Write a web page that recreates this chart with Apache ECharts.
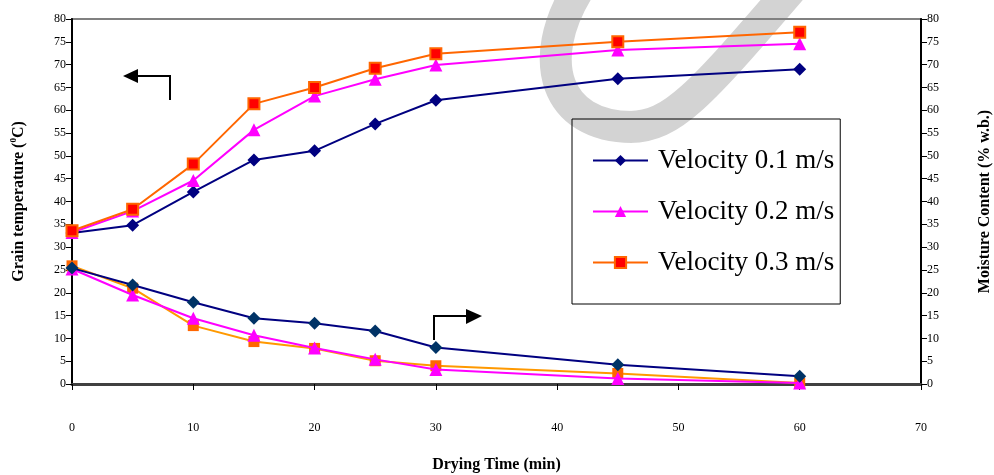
<!DOCTYPE html>
<html>
<head>
<meta charset="utf-8">
<script src="https://cdn.jsdelivr.net/npm/echarts@6/dist/echarts.min.js"></script>
<style>html,body{margin:0;padding:0;background:#fff}#c{width:994px;height:475px}</style>
</head>
<body>
<div id="c"></div>
<script>
// ---- data ----
const dryingTime = [0, 5, 10, 15, 20, 25, 30, 45, 60];
const seriesNames = ['Velocity 0.1 m/s', 'Velocity 0.2 m/s', 'Velocity 0.3 m/s'];
const tempV1 = [33.1, 34.8, 42.1, 49.1, 51.1, 57.0, 62.2, 66.9, 69.0];
const tempV2 = [33.2, 37.9, 44.6, 55.7, 63.1, 66.8, 69.9, 73.2, 74.6];
const tempV3 = [33.6, 38.3, 48.2, 61.4, 65.0, 69.2, 72.4, 75.0, 77.1];
const moistV1 = [25.4, 21.7, 17.9, 14.4, 13.3, 11.6, 8.0, 4.2, 1.7];
const moistV2 = [25.2, 19.5, 14.4, 10.7, 7.9, 5.4, 3.2, 1.2, 0.2];
const moistV3 = [25.9, 21.0, 12.8, 9.3, 7.8, 5.1, 4.0, 2.3, 0.2];
const xTicks = {min: 0, max: 70, interval: 10};
const yTicks = {min: 0, max: 80, interval: 5};

const FONT = 'Liberation Serif';
const pairs = arr => dryingTime.map((t, i) => [t, arr[i]]);

const chart = echarts.init(document.getElementById('c'), null, {renderer: 'canvas'});

function mk(name, data, yIdx, lineColor, symbol, size, fill, border, z) {
  return {
    name: name, type: 'line', yAxisIndex: yIdx, data: pairs(data),
    symbol: symbol, symbolSize: size, showSymbol: true, z: z,
    lineStyle: {color: lineColor, width: 2},
    itemStyle: {color: fill, borderColor: border || fill, borderWidth: border ? 2 : 0},
    emphasis: {disabled: true}, animation: false
  };
}

const yAxisBase = {
  type: 'value', min: yTicks.min, max: yTicks.max, interval: yTicks.interval,
  axisLine: {show: true, onZero: false, lineStyle: {color: '#000', width: 2}},
  axisTick: {show: true, length: 6, lineStyle: {color: '#000', width: 1}},
  axisLabel: {fontFamily: FONT, fontSize: 12, color: '#000', margin: 6},
  splitLine: {show: false},
  nameLocation: 'middle', nameRotate: 90
};

chart.setOption({
  animation: false,
  backgroundColor: '#fff',
  grid: {left: 72, right: 73, top: 19, bottom: 91, outerBoundsMode: 'none', containLabel: false,
         show: true, borderColor: '#808080', borderWidth: 2, backgroundColor: 'transparent'},
  legend: {
    data: seriesNames, orient: 'vertical', left: 572, top: 119,
    borderColor: '#000', borderWidth: 1, backgroundColor: 'transparent',
    padding: [28, 6, 28, 20], itemGap: 24, itemWidth: 55, itemHeight: 14,
    textStyle: {fontFamily: FONT, fontSize: 27, color: '#000', padding: [0, 0, 0, 5]},
    selectedMode: false
  },
  xAxis: {
    type: 'value', min: xTicks.min, max: xTicks.max, interval: xTicks.interval,
    axisLine: {show: true, onZero: false, lineStyle: {color: '#404040', width: 3}},
    axisTick: {show: true, length: 6, lineStyle: {color: '#000', width: 1}},
    axisLabel: {fontFamily: FONT, fontSize: 12, color: '#000', margin: 38},
    splitLine: {show: false},
    name: 'Drying Time (min)', nameLocation: 'middle', nameGap: 73,
    nameTextStyle: {fontFamily: FONT, fontSize: 16, fontWeight: 'bold', color: '#000'}
  },
  yAxis: [
    Object.assign({}, yAxisBase, {
      position: 'left', nameGap: 44,
      name: 'Grain temperature ({sup|0}C)',
      nameTextStyle: {fontFamily: FONT, fontSize: 16, fontWeight: 'bold', color: '#000',
        rich: {sup: {fontFamily: FONT, fontSize: 9, fontWeight: 'bold', color: '#000', padding: [0, 0, 10, 0]}}}
    }),
    Object.assign({}, yAxisBase, {
      position: 'right', nameGap: 56,
      name: 'Moisture Content (% w.b.)',
      nameTextStyle: {fontFamily: FONT, fontSize: 16, fontWeight: 'bold', color: '#000'}
    })
  ],
  graphic: [
    {type: 'bezierCurve', z: -10, silent: true,
     shape: {x1: 578, y1: -10, cpx1: 535, cpy1: 60, cpx2: 555, cpy2: 127, x2: 632, y2: 127},
     style: {fill: null, stroke: '#d3d3d3', lineWidth: 32}},
    {type: 'bezierCurve', z: -10, silent: true,
     shape: {x1: 630, y1: 127, cpx1: 672, cpy1: 127, cpx2: 700, cpy2: 95, x2: 792, y2: -12},
     style: {fill: null, stroke: '#d3d3d3', lineWidth: 32}},
    {type: 'polyline', z: 100, shape: {points: [[170, 100], [170, 76], [137, 76]]}, style: {stroke: '#000', lineWidth: 2, fill: null}},
    {type: 'polygon', z: 100, shape: {points: [[123, 76], [138, 69], [138, 83]]}, style: {fill: '#000'}},
    {type: 'polyline', z: 100, shape: {points: [[434, 340], [434, 316], [467, 316]]}, style: {stroke: '#000', lineWidth: 2, fill: null}},
    {type: 'polygon', z: 100, shape: {points: [[482, 316], [466, 309], [466, 324]]}, style: {fill: '#000'}}
  ],
  series: [
    mk(seriesNames[0], tempV1, 0, '#000080', 'diamond', 13, '#000080', null, 3),
    mk(seriesNames[1], tempV2, 0, '#FF00FF', 'triangle', 13, '#FF00FF', null, 4),
    mk(seriesNames[2], tempV3, 0, '#FF6600', 'rect', 11, '#FF0000', '#FF6600', 5),
    mk(seriesNames[2], moistV3, 1, '#FF9900', 'rect', 11, '#FF6600', null, 3),
    mk(seriesNames[1], moistV2, 1, '#FF00FF', 'triangle', 13, '#FF00FF', null, 4),
    mk(seriesNames[0], moistV1, 1, '#000080', 'diamond', 13, '#003366', null, 5)
  ]
});
</script>
</body>
</html>
